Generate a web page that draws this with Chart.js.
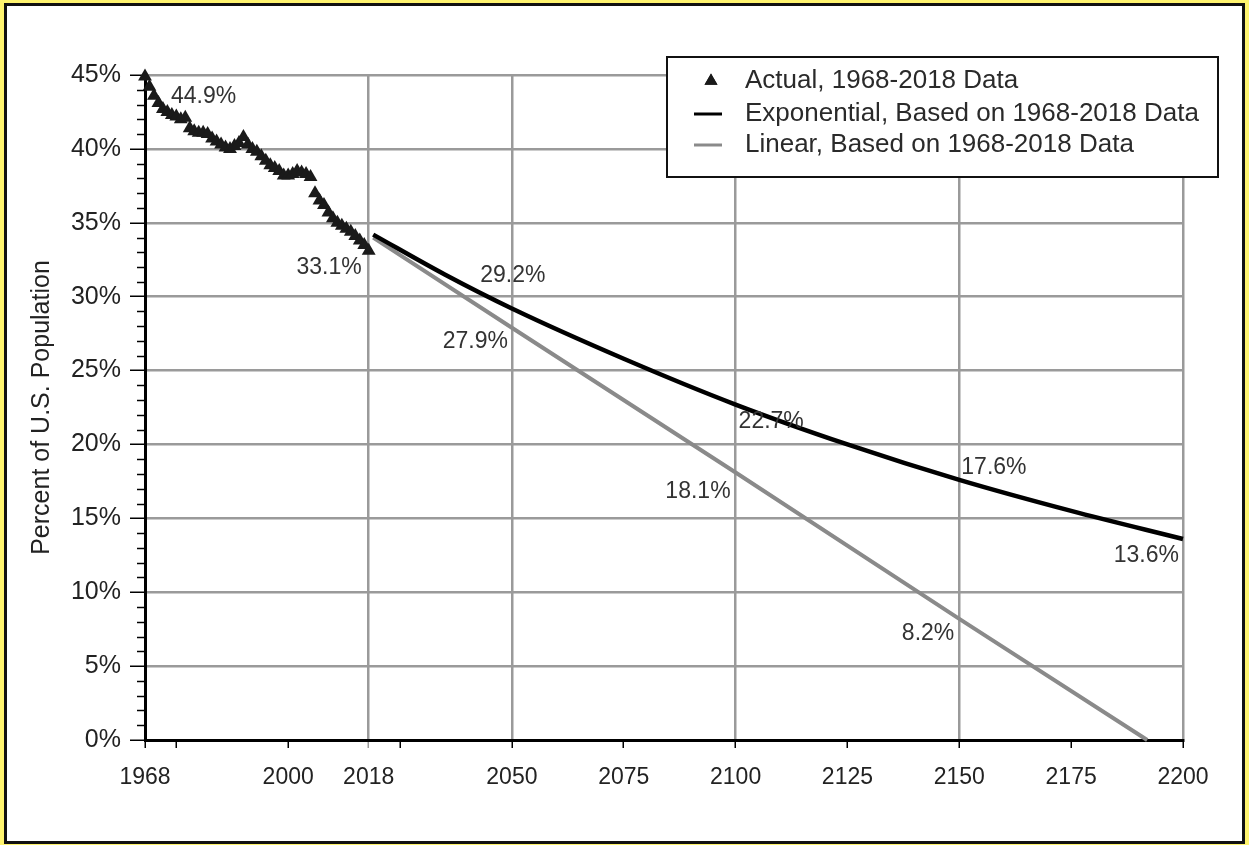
<!DOCTYPE html>
<html>
<head>
<meta charset="utf-8">
<script src="https://cdn.jsdelivr.net/npm/chart.js@4.4.1/dist/chart.umd.min.js"></script>
<style>
  html, body { margin: 0; padding: 0; background: #fff46e; }
  #frame { position: absolute; left: 4px; top: 3px; width: 1241px; height: 841px; box-sizing: border-box; border: 3px solid #111; background: #fff; }
  #chart { position: absolute; left: 0; top: 0; }
</style>
</head>
<body>
<div id="frame"></div>
<canvas id="chart" width="1249" height="845"></canvas>
<script>
// actual share, 1968-2018
const actualYears = [1968, 1969, 1970, 1971, 1972, 1973, 1974, 1975, 1976, 1977,
    1978, 1979, 1980, 1981, 1982, 1983, 1984, 1985, 1986, 1987,
    1988, 1989, 1990, 1991, 1992, 1993, 1994, 1995, 1996, 1997,
    1998, 1999, 2000, 2001, 2002, 2003, 2004, 2005, 2006, 2007,
    2008, 2009, 2010, 2011, 2012, 2013, 2014, 2015, 2016, 2017, 2018];
const actualValues = [44.9, 44.2, 43.6, 43.1, 42.7, 42.5, 42.3, 42.2, 42.0, 42.1,
    41.4, 41.2, 41.1, 41.1, 41.0, 40.7, 40.5, 40.3, 40.1, 40.0,
    40.2, 40.4, 40.8, 40.3, 40.0, 39.8, 39.5, 39.2, 38.9, 38.7,
    38.5, 38.2, 38.2, 38.3, 38.5, 38.4, 38.3, 38.1, 37.0, 36.5,
    36.2, 35.7, 35.3, 35.0, 34.8, 34.6, 34.4, 34.1, 33.8, 33.5, 33.1];

// exponential projection
const expYears = [2019, 2035, 2050, 2075, 2100, 2125, 2150, 2175, 2200];
const expValues = [34.2, 31.5, 29.2, 25.8, 22.7, 20.0, 17.6, 15.5, 13.6];

// linear projection
const linYears = [2019, 2050, 2100, 2150, 2192];
const linValues = [34.0, 27.9, 18.1, 8.2, 0.0];

const seriesNames = ['Actual, 1968-2018 Data', 'Exponential, Based on 1968-2018 Data', 'Linear, Based on 1968-2018 Data'];

const xTickYears = [1968, 1975, 2000, 2018, 2025, 2050, 2075, 2100, 2125, 2150, 2175, 2200];
const xLabelYears = [1968, 2000, 2018, 2050, 2075, 2100, 2125, 2150, 2175, 2200];
const xGridYears = [2018, 2050, 2100, 2150, 2200];

// value labels: dataset, point index, pixel offset, alignment
const valueLabels = [
    { ds: 0, i: 0, dx: 26, dy: 20, align: 'left' },
    { ds: 0, i: 50, dx: -7, dy: 17, align: 'right' },
    { ds: 1, i: 2, dx: 1, dy: -33, align: 'center' },
    { ds: 1, i: 4, dx: 3, dy: 17, align: 'left' },
    { ds: 1, i: 6, dx: 2, dy: -12, align: 'left' },
    { ds: 1, i: 8, dx: -4, dy: 17, align: 'right' },
    { ds: 2, i: 1, dx: -4, dy: 14, align: 'right' },
    { ds: 2, i: 2, dx: -5, dy: 19, align: 'right' },
    { ds: 2, i: 3, dx: -5, dy: 15, align: 'right' }
];

const FONT = '"Liberation Sans", Arial, Helvetica, sans-serif';
const GRID = '#9a9a9a';

function pairs(xs, ys) {
    return xs.map((x, i) => ({ x: x, y: ys[i] }));
}

const minorTicks = {
    id: 'minorTicks',
    afterDraw(chart) {
        const ctx = chart.ctx;
        const y = chart.scales.y;
        const left = chart.chartArea.left;
        ctx.save();
        ctx.strokeStyle = '#000';
        ctx.lineWidth = 1.5;
        for (let v = 0; v <= 45; v++) {
            if (v % 5 === 0) continue;
            const py = Math.round(y.getPixelForValue(v)) + 0.5;
            ctx.beginPath();
            ctx.moveTo(left - 8, py);
            ctx.lineTo(left, py);
            ctx.stroke();
        }
        ctx.restore();
    }
};

const pointLabels = {
    id: 'pointLabels',
    afterDatasetsDraw(chart) {
        const ctx = chart.ctx;
        ctx.save();
        ctx.font = '23px ' + FONT;
        ctx.fillStyle = '#333';
        ctx.textBaseline = 'middle';
        valueLabels.forEach(l => {
            const el = chart.getDatasetMeta(l.ds).data[l.i];
            const val = chart.data.datasets[l.ds].data[l.i].y;
            ctx.textAlign = l.align;
            ctx.fillText(val.toFixed(1) + '%', el.x + l.dx, el.y + l.dy);
        });
        ctx.restore();
    }
};

const boxLegend = {
    id: 'boxLegend',
    afterDraw(chart) {
        const ctx = chart.ctx;
        const sets = chart.data.datasets;
        ctx.save();
        ctx.fillStyle = '#fff';
        ctx.fillRect(667, 57, 551, 120);
        ctx.strokeStyle = '#111';
        ctx.lineWidth = 2;
        ctx.strokeRect(667, 57, 551, 120);
        const rows = [81, 114, 145];
        ctx.font = '26px ' + FONT;
        ctx.textBaseline = 'middle';
        ctx.textAlign = 'left';
        sets.forEach((ds, k) => {
            const ry = rows[k];
            if (ds.showLine) {
                ctx.strokeStyle = ds.borderColor;
                ctx.lineWidth = 3;
                ctx.beginPath();
                ctx.moveTo(694, ry);
                ctx.lineTo(722, ry);
                ctx.stroke();
            } else {
                ctx.fillStyle = ds.backgroundColor;
                Chart.helpers.drawPoint(ctx, { pointStyle: 'triangle', radius: 7.5, borderWidth: 0 }, 711, ry);
                ctx.fill();
            }
            ctx.fillStyle = '#2a2a2a';
            ctx.fillText(ds.label, 745, ry);
        });
        ctx.restore();
    }
};

const ctx = document.getElementById('chart').getContext('2d');
const chart = new Chart(ctx, {
    type: 'scatter',
    data: {
        datasets: [{
            label: seriesNames[0],
            data: pairs(actualYears, actualValues),
            showLine: false,
            pointStyle: 'triangle',
            pointRadius: 8,
            pointBorderWidth: 0,
            backgroundColor: '#1a1a1a',
            borderColor: '#1a1a1a',
            clip: false
        }, {
            label: seriesNames[1],
            data: pairs(expYears, expValues),
            showLine: true,
            borderColor: '#000',
            backgroundColor: '#000',
            borderWidth: 4.5,
            pointRadius: 0,
            cubicInterpolationMode: 'monotone',
            clip: false
        }, {
            label: seriesNames[2],
            data: pairs(linYears, linValues),
            showLine: true,
            borderColor: '#8a8a8a',
            backgroundColor: '#8a8a8a',
            borderWidth: 4,
            pointRadius: 0,
            clip: false
        }]
    },
    options: {
        responsive: false,
        animation: false,
        layout: { padding: { left: 0, top: 75, right: 66, bottom: 0 } },
        plugins: {
            legend: { display: false },
            tooltip: { enabled: false }
        },
        scales: {
            x: {
                type: 'linear',
                min: 1968,
                max: 2200,
                afterBuildTicks(scale) {
                    scale.ticks = xTickYears.map(v => ({ value: v }));
                },
                afterFit(scale) { scale.height = 105; },
                ticks: {
                    autoSkip: false,
                    maxRotation: 0,
                    padding: 16,
                    color: '#222',
                    font: { family: FONT, size: 23 },
                    callback: v => xLabelYears.includes(v) ? String(v) : ''
                },
                grid: {
                    color: c => xGridYears.includes(c.tick.value) ? GRID : 'rgba(0,0,0,0)',
                    lineWidth: 2.5,
                    tickLength: 8,
                    tickWidth: 1.5,
                    tickColor: c => c.tick.value === 2018 ? GRID : '#000'
                },
                border: { color: '#000', width: 3 }
            },
            y: {
                min: 0,
                max: 45,
                afterFit(scale) { scale.width = 145; },
                ticks: {
                    stepSize: 5,
                    padding: 9,
                    color: '#222',
                    font: { family: FONT, size: 25 },
                    callback: v => v + '%'
                },
                grid: {
                    color: c => c.tick.value > 0 ? GRID : 'rgba(0,0,0,0)',
                    lineWidth: 2.5,
                    tickLength: 15,
                    tickWidth: 1.5,
                    tickColor: '#000'
                },
                border: { color: '#000', width: 3 },
                title: {
                    display: true,
                    text: 'Percent of U.S. Population',
                    color: '#222',
                    font: { family: FONT, size: 25 },
                    padding: { top: 27, bottom: 0 }
                }
            }
        }
    },
    plugins: [minorTicks, pointLabels, boxLegend]
});
</script>
</body>
</html>
